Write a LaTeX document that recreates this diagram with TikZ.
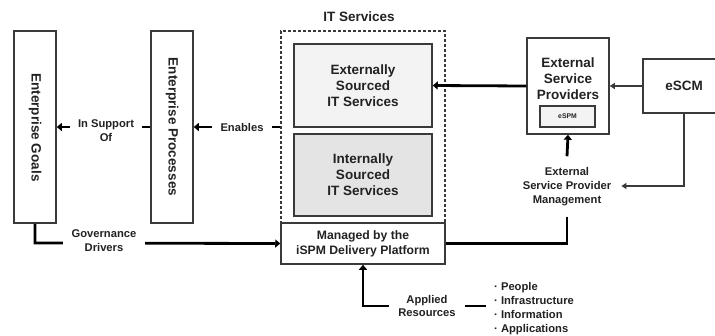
\documentclass[tikz,border=0pt]{standalone}
\usepackage{fontspec}
\setmainfont{Liberation Sans}
\usetikzlibrary{arrows.meta}
\definecolor{bordc}{HTML}{3A3A3A}
\definecolor{txtc}{HTML}{222222}
\definecolor{fillA}{HTML}{F3F3F3}
\definecolor{fillB}{HTML}{E4E4E4}
\tikzset{
  every node/.style={text=txtc, font=\bfseries},
  box/.style={draw=bordc, line width=1.5pt, fill=white, inner sep=0pt},
  big/.style={font=\bfseries\fontsize{13.5}{16}\selectfont, align=center},
  mid/.style={font=\bfseries\fontsize{12.2}{15}\selectfont, align=center},
  lbl/.style={font=\bfseries\fontsize{11.2}{13.8}\selectfont, align=center, fill=white, inner ysep=1pt},
  thickarrow/.style={line width=2.8pt, draw=black, -{Triangle[length=5pt,width=8pt]}},
  thickline/.style={line width=2.8pt, draw=black},
  thinarrow/.style={line width=1.3pt, draw=bordc, -{Triangle[length=5pt,width=6pt]}},
  thinline/.style={line width=1.3pt, draw=bordc},
}
\begin{document}
\begin{tikzpicture}[x=1pt, y=-1pt]
\clip (0,0) rectangle (715,335);
\fill[white] (0,0) rectangle (715,335);

% Enterprise Goals
\node[box, minimum width=42pt, minimum height=192pt] (goals) at (35,127) {};
\node[big, rotate=-90] (goalst) at (35,127.5) {Enterprise Goals};
% Enterprise Processes
\node[box, minimum width=42pt, minimum height=192pt] (proc) at (172,127) {};
\node[big, rotate=-90] (proct) at (172,127) {Enterprise Processes};

% IT Services dashed container
\node[big] (itst) at (359,17) {IT Services};
\node[draw=bordc, line width=1.3pt, dash pattern=on 3pt off 2pt, minimum width=164pt, minimum height=192pt, inner sep=0pt] (its) at (363,127) {};
\node[box, fill=fillA, minimum width=138pt, minimum height=83pt] (ext) at (363,85.5) {};
\node[big] (extt) at (363,86) {Externally\\Sourced\\IT Services};
\node[box, fill=fillB, minimum width=138pt, minimum height=82pt] (int) at (363,175) {};
\node[big] (intt) at (363,175) {Internally\\Sourced\\IT Services};
\node[box, minimum width=164pt, minimum height=41pt] (plat) at (363,243.5) {};
\node[mid] (platt) at (363,243.5) {Managed by the\\iSPM Delivery Platform};

% External Service Providers
\node[box, minimum width=82pt, minimum height=96pt] (esp) at (568,86) {};
\node[big] (espt) at (568,79) {External\\Service\\Providers};
\node[box, fill=fillA, minimum width=55pt, minimum height=21pt, font=\bfseries\fontsize{6.8}{8}\selectfont] (espm) at (567.5,116.5) {eSPM};

% eSCM
\node[box, minimum width=80pt, minimum height=54pt] (escm) at (683,86) {};
\node[big] (escmt) at (684,86) {eSCM};

% Connectors
\draw[thickarrow] (proc.west |- 0,127) -- (goals.east |- 0,127);
\node[lbl, inner xsep=8pt] (insup) at (106,131) {In Support\\Of};
\draw[thickarrow] (its.west |- 0,127) -- (proc.east |- 0,127);
\node[lbl, inner xsep=9pt] (enab) at (242,127) {Enables};

\coordinate (gcorner) at (35,243);
\draw[thickarrow] (goals.south) -- (gcorner) -- (plat.west);
\node[lbl, inner xsep=9pt] (gov) at (104,241) {Governance\\Drivers};

\draw[thickarrow] (esp.west) -- (ext.east);
\draw[thinarrow] (escm.west) -- (esp.east);

\node[lbl, inner xsep=10pt, inner ysep=11pt, fill=none] (espmg) at (567,186.5) {External\\Service Provider\\Management};
\draw[thickarrow] (espmg.north) -- (esp.south);
\coordinate (ecorner) at (684,186);
\draw[thinarrow] (escm.south -| ecorner) -- (ecorner) -- (espmg.east |- ecorner);
\draw[thickline] (espmg.south) |- (plat.east);

% Applied resources
\node[lbl, inner xsep=9pt] (appl) at (427,306) {Applied\\Resources};
\draw[thickarrow, line width=1.8pt] (appl.west) -| (plat.south);
\node[font=\bfseries\fontsize{11.2}{13.8}\selectfont, align=left, inner xsep=8pt, anchor=west] (res) at (486,308.5) {· People\\· Infrastructure\\· Information\\· Applications};
\draw[line width=1.8pt] (appl.east) -- (res.west |- appl.east);
\end{tikzpicture}
\end{document}
